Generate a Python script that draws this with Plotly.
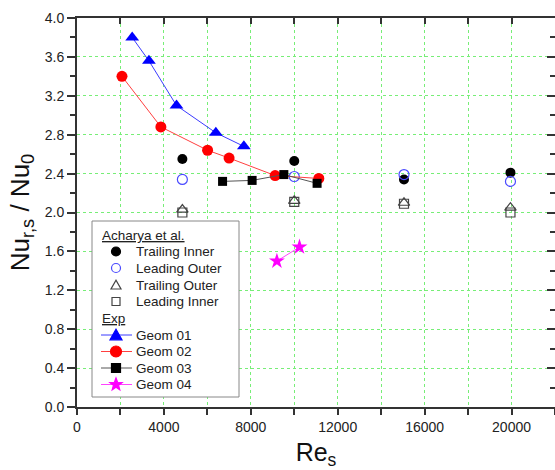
import math
import plotly.graph_objects as go

# Acharya et al. reference data
ach_re = [4850, 10000, 15050, 19950]
trailing_inner = [2.55, 2.53, 2.34, 2.41]
leading_outer = [2.34, 2.37, 2.39, 2.32]
trailing_outer = [2.03, 2.12, 2.10, 2.05]
leading_inner = [2.00, 2.11, 2.09, 2.00]

# Experimental data
g1_re = [2540, 3310, 4580, 6390, 7680]
g1_nu = [3.80, 3.56, 3.10, 2.82, 2.68]
g2_re = [2070, 3860, 6010, 7000, 9120, 11130]
g2_nu = [3.40, 2.88, 2.64, 2.56, 2.38, 2.35]
g3_re = [6700, 8060, 9520, 11050]
g3_nu = [2.32, 2.33, 2.39, 2.30]
g4_re = [9200, 10240]
g4_nu = [1.50, 1.645]

x_ticks = [0, 4000, 8000, 12000, 16000, 20000]
y_ticks = [0.0, 0.4, 0.8, 1.2, 1.6, 2.0, 2.4, 2.8, 3.2, 3.6, 4.0]

FONT = "Liberation Sans, Arial, sans-serif"
W, H = 555, 470
ML, MR, MT, MB = 77, 0, 18, 63
PW, PH = W - ML - MR, H - MT - MB
GRID = "#77ee77"


def px(x, y):
    """pixel position -> paper coords"""
    return (x - ML) / PW, 1 - (y - MT) / PH


fig = go.Figure()

fig.add_trace(go.Scatter(x=ach_re, y=trailing_inner, mode="markers", name="Trailing Inner",
                         marker=dict(symbol="circle", size=10, color="black")))
fig.add_trace(go.Scatter(x=ach_re, y=leading_outer, mode="markers", name="Leading Outer",
                         marker=dict(symbol="circle-open", size=10, color="#4a4aff", line=dict(width=1.2))))
fig.add_trace(go.Scatter(x=ach_re, y=trailing_outer, mode="markers", name="Trailing Outer",
                         marker=dict(symbol="triangle-up-open", size=10, color="#444", line=dict(width=1.2))))
fig.add_trace(go.Scatter(x=ach_re, y=leading_inner, mode="markers", name="Leading Inner",
                         marker=dict(symbol="square-open", size=9, color="#444", line=dict(width=1.2))))

fig.add_trace(go.Scatter(x=g1_re, y=g1_nu, mode="lines+markers", name="Geom 01",
                         line=dict(color="#3b3bff", width=1),
                         marker=dict(symbol="triangle-up", size=12, color="#0000ff")))
fig.add_trace(go.Scatter(x=g2_re, y=g2_nu, mode="lines+markers", name="Geom 02",
                         line=dict(color="#ff4040", width=1),
                         marker=dict(symbol="circle", size=11, color="#ff0000")))
fig.add_trace(go.Scatter(x=g3_re, y=g3_nu, mode="lines+markers", name="Geom 03",
                         line=dict(color="#555555", width=1),
                         marker=dict(symbol="square", size=9, color="black")))
fig.add_trace(go.Scatter(x=g4_re, y=g4_nu, mode="lines+markers", name="Geom 04",
                         line=dict(color="#ff44ff", width=1),
                         marker=dict(symbol="star", size=12, color="#ff00ff")))

# empty trace to host mirrored (inside-tick) axes
fig.add_trace(go.Scatter(x=[], y=[], xaxis="x2", yaxis="y2", showlegend=False, hoverinfo="skip"))

grid = dict(showgrid=True, gridcolor=GRID, griddash="dot", gridwidth=1)
tickfont = dict(family=FONT, size=14, color="#222")

# ---- custom legend (drawn as layout shapes + annotations) ----
shapes = []
annotations = []
bx0, by0 = px(92, 221)
bx1, by1 = px(239, 397)
shapes.append(dict(type="rect", xref="paper", yref="paper", x0=bx0, y0=by1, x1=bx1, y1=by0,
                   fillcolor="white", line=dict(color="#888", width=1), layer="above"))


def text(x, y, s):
    ax, ay = px(x, y)
    annotations.append(dict(xref="paper", yref="paper", x=ax, y=ay, text=s, showarrow=False,
                            xanchor="left", yanchor="middle",
                            font=dict(family=FONT, size=13.5, color="#222")))


def circle(cx, cy, r, fill, line):
    x0, y0 = px(cx - r, cy + r)
    x1, y1 = px(cx + r, cy - r)
    shapes.append(dict(type="circle", xref="paper", yref="paper", x0=x0, y0=y0, x1=x1, y1=y1,
                       fillcolor=fill, line=dict(color=line, width=1.2), layer="above"))


def square(cx, cy, r, fill, line):
    x0, y0 = px(cx - r, cy + r)
    x1, y1 = px(cx + r, cy - r)
    shapes.append(dict(type="rect", xref="paper", yref="paper", x0=x0, y0=y0, x1=x1, y1=y1,
                       fillcolor=fill, line=dict(color=line, width=1.2), layer="above"))


def poly(pts, fill, line):
    p = [px(a, b) for a, b in pts]
    path = "M " + " L ".join(f"{a:.5f},{b:.5f}" for a, b in p) + " Z"
    shapes.append(dict(type="path", xref="paper", yref="paper", path=path,
                       fillcolor=fill, line=dict(color=line, width=1.2), layer="above"))


def triangle(cx, cy, r, fill, line):
    poly([(cx - r, cy + r * 0.8), (cx + r, cy + r * 0.8), (cx, cy - r * 0.95)], fill, line)


def star(cx, cy, r, fill):
    pts = []
    for i in range(10):
        ang = -math.pi / 2 + i * math.pi / 5
        rr = r if i % 2 == 0 else r * 0.42
        pts.append((cx + rr * math.cos(ang), cy + rr * math.sin(ang)))
    poly(pts, fill, fill)


def legline(y, color):
    x0, yy = px(101, y)
    x1, _ = px(132, y)
    shapes.append(dict(type="line", xref="paper", yref="paper", x0=x0, y0=yy, x1=x1, y1=yy,
                       line=dict(color=color, width=1), layer="above"))


MX, TX, HX = 116, 134, 100
text(HX, 235.5, "<u>Acharya et al.</u>")
circle(MX, 251.5, 4.5, "black", "black")
text(TX, 251.5, "Trailing Inner")
circle(MX, 268, 4.5, "white", "#4a4aff")
text(TX, 268, "Leading Outer")
triangle(MX, 285, 5, "white", "#444")
text(TX, 285, "Trailing Outer")
square(MX, 301.5, 4, "white", "#444")
text(TX, 301.5, "Leading Inner")
text(HX, 318, "<u>Exp</u>")
legline(335, "#3b3bff")
triangle(MX, 335, 6, "#0000ff", "#0000ff")
text(TX, 335, "Geom 01")
legline(351.5, "#ff4040")
circle(MX, 351.5, 5.5, "#ff0000", "#ff0000")
text(TX, 351.5, "Geom 02")
legline(368, "#555555")
square(MX, 368, 4.5, "black", "black")
text(TX, 368, "Geom 03")
legline(384.5, "#ff44ff")
star(MX, 384.5, 6.5, "#ff00ff")
text(TX, 384.5, "Geom 04")

fig.update_layout(
    width=W, height=H,
    margin=dict(l=ML, r=MR, t=MT, b=MB),
    paper_bgcolor="white", plot_bgcolor="white",
    font=dict(family=FONT, color="#222"),
    showlegend=False,
    shapes=shapes,
    annotations=annotations,
    xaxis=dict(range=[0, 22000], tickvals=x_ticks, ticktext=[str(v) for v in x_ticks],
               ticks="outside", ticklen=6, tickwidth=1.5, tickcolor="#333",
               showline=True, linecolor="#333", linewidth=1.8, zeroline=False,
               tickfont=tickfont, **grid,
               minor=dict(dtick=2000, tick0=0, ticks="outside", ticklen=6, tickwidth=1.5,
                          tickcolor="#333", showgrid=True, gridcolor=GRID, griddash="dot"),
               title=dict(text="Re<sub>s</sub>", font=dict(family=FONT, size=25, color="#111"),
                          standoff=12)),
    yaxis=dict(range=[0, 4.0], tickvals=y_ticks, ticktext=[f"{v:.1f}" for v in y_ticks],
               ticks="outside", ticklen=8, tickwidth=1.5, tickcolor="#333",
               showline=True, linecolor="#333", linewidth=1.8, zeroline=False,
               tickfont=tickfont, **grid,
               minor=dict(dtick=0.2, tick0=0, ticks="outside", ticklen=5, tickwidth=1.5,
                          tickcolor="#333", showgrid=False),
               title=dict(text="Nu<sub>r,s</sub> / Nu<sub>0</sub>",
                          font=dict(family=FONT, size=26, color="#111"), standoff=8)),
    xaxis2=dict(overlaying="x", side="top", range=[0, 22000], tickvals=x_ticks,
                showticklabels=False, ticks="inside", ticklen=6, tickwidth=1.5, tickcolor="#333",
                showline=True, linecolor="#333", linewidth=1.8, showgrid=False, zeroline=False,
                minor=dict(dtick=2000, tick0=0, ticks="inside", ticklen=6, tickwidth=1.5,
                           tickcolor="#333")),
    yaxis2=dict(overlaying="y", side="right", range=[0, 4.0], tickvals=y_ticks,
                showticklabels=False, ticks="inside", ticklen=8, tickwidth=1.5, tickcolor="#333",
                showline=True, linecolor="#333", linewidth=1.8, showgrid=False, zeroline=False,
                minor=dict(dtick=0.2, tick0=0, ticks="inside", ticklen=5, tickwidth=1.5,
                           tickcolor="#333")),
)

fig.write_html("out.html")
